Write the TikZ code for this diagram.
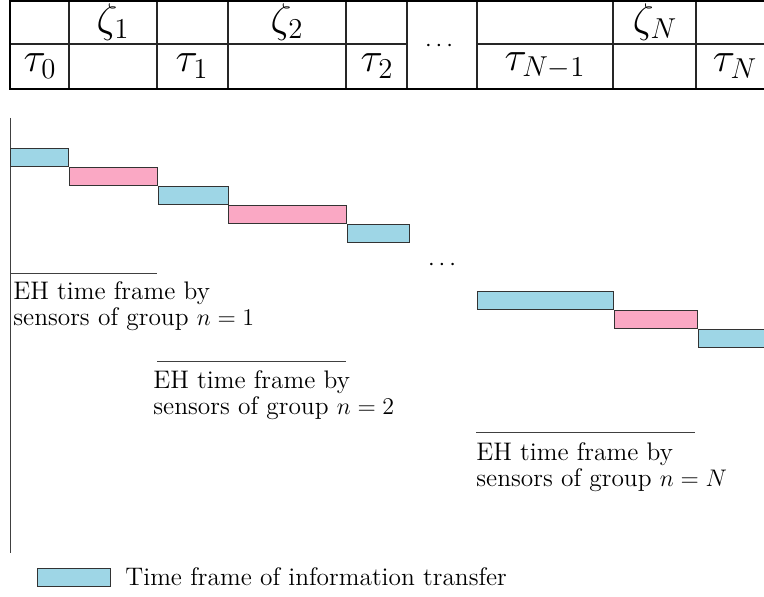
\documentclass[tikz,border=0pt]{standalone}
\usepackage{amsmath}
\definecolor{infoblue}{RGB}{158,214,230}
\definecolor{ehpink}{RGB}{250,168,196}

\begin{document}
\begin{tikzpicture}[x=0.5pt,y=-0.5pt]
    \tikzstyle{border} = [line width=1pt, black]
    \tikzstyle{grid} = [line width=0.6pt, black!85]
    \tikzstyle{rule} = [line width=0.5pt, black!75]
    \tikzstyle{cell} = [inner sep=0pt, font=\fontsize{20}{22}\selectfont]
    \tikzstyle{dots} = [inner sep=0pt, font=\fontsize{12}{14}\selectfont]
    \tikzstyle{slot} = [rectangle, draw=black!80, line width=0.5pt, inner sep=0pt, anchor=north west, minimum height=9pt]
    \tikzstyle{annot} = [align=left, inner sep=0pt, anchor=north west, font=\fontsize{12.7}{13}\selectfont]
    \useasboundingbox (0,0) rectangle (764,597);

    %%% DRAW THE TABLE
    \foreach \x in {69,157,228,346,407,477,613,696}
        \draw[grid] (\x,1.5) -- (\x,89);
    \draw[grid] (10,44) -- (407,44);
    \draw[grid] (477,44) -- (764,44);
    \draw[border] (764,1.5) -- (10,1.5) -- (10,89) -- (764,89);

    \foreach \name / \x in {1/113,2/287,N/655}
        \node[cell] (Z-\name) at (\x,22) {$\zeta_\name$};
    \foreach \name / \lab / \x in {0/0/40,1/1/192,2/2/377,M/N-1/545,N/N/735}
        \node[cell] (T-\name) at (\x,66) {$\tau_{\lab}$};
    \node[dots] (tdots) at (441,46) {$\cdots$};

    %%% DRAW THE TIME SLOTS
    \draw[rule] (10,118) -- (10,553);
    \foreach \name / \a / \b / \y / \c in {1/10/68/148/infoblue, 2/69/157/167/ehpink,
            3/158/228/186/infoblue, 4/228/346/205/ehpink, 5/347/409/224/infoblue,
            6/477/613/291/infoblue, 7/614/697/310/ehpink, 8/698/770/329/infoblue}
        \node[slot, fill=\c, minimum width={(\b-\a)*0.5pt}] (S-\name) at (\a,\y) {};
    \node[dots] (sdots) at (444,265) {$\cdots$};

    %%% ANOTATE
    \draw[rule] (10,274) -- (157,274);
    \node[annot] (eh-1) at (13,281) {EH time frame by\\sensors of group $n=1$};
    \draw[rule] (157,362) -- (346,362);
    \node[annot] (eh-2) at (153,370) {EH time frame by\\sensors of group $n=2$};
    \draw[rule] (476,433) -- (695,433);
    \node[annot] (eh-N) at (476,442) {EH time frame by\\sensors of group $n=N$};

    %%% LEGEND
    \node[slot, fill=infoblue, minimum width=36.5pt] (key) at (37,568) {};
    \node[annot, anchor=west] (key-text) at (125,577) {Time frame of information transfer};
\end{tikzpicture}
\end{document}
